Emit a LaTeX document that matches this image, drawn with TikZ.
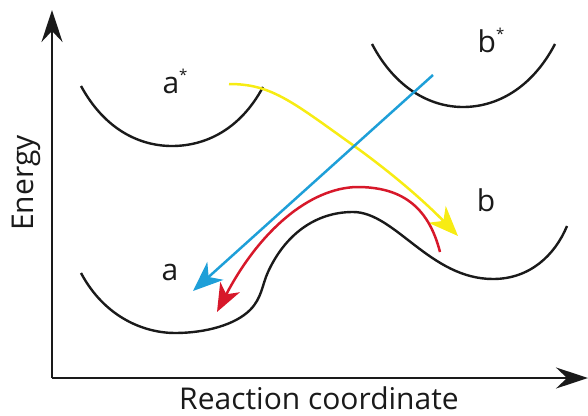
\documentclass[tikz,border=0pt]{standalone}
\usepackage{fontspec}
\setmainfont{Open Sans}
\usetikzlibrary{arrows.meta}
\definecolor{yel}{HTML}{F7EC13}
\definecolor{blu}{HTML}{1E9FD8}
\definecolor{rd}{HTML}{D7182A}
\definecolor{ink}{HTML}{1A1A1A}
\newcommand{\mystar}{\raisebox{13pt}{\fontsize{15}{15}\selectfont *}}
\begin{document}
\begin{tikzpicture}[x=1pt,y=-1pt,
  axis/.style={line width=2.6pt,draw=ink,-{Stealth[length=32pt,width=21pt,inset=11pt]}},
  well/.style={line width=2.4pt,draw=ink},
  flow/.style={line width=2.5pt,-{Stealth[length=30pt,width=24pt,inset=9pt]}},
  lbl/.style={font=\fontsize{30}{30}\selectfont,inner sep=0pt,anchor=base,text=ink}]
\useasboundingbox (0,0) rectangle (588,415);
% axes
\coordinate (O) at (52,378);
\coordinate (Ytip) at (52,10);
\coordinate (Xtip) at (588,378);
\draw[axis] (O) -- (Ytip);
\draw[axis] (O) -- (Xtip);
\node[lbl,rotate=90] (ylab) at (33,183) {Energy};
\node[lbl] (xlab) at (319,409) {Reaction coordinate};
% wells
\draw[well] (81,86) .. controls (105,130) and (140,146) .. (172,146) .. controls (205,146) and (240,130) .. (263,87);
\draw[well] (372,44) .. controls (395,88) and (430,107) .. (463,107) .. controls (497,107) and (532,88) .. (555,44);
\draw[well] (81,273) .. controls (105,318) and (145,333) .. (175,333)
  .. controls (205,333) and (235,325) .. (250,310)
  .. controls (262,298) and (262,285) .. (268,272)
  .. controls (285,235) and (315,212) .. (353,212)
  .. controls (395,212) and (430,279) .. (493,279)
  .. controls (530,279) and (555,255) .. (567,226);
% labels
\node[lbl] (astar) at (175,93) {a\mystar};
\node[lbl] (bstar) at (491,52) {b\mystar};
\node[lbl] (b) at (486,211) {b};
\node[lbl] (a) at (170,280) {a};
% arrows
\coordinate (y0) at (229,84);
\coordinate (y1) at (458,236);
\draw[flow,draw=yel] (y0) .. controls (270,84) and (290,100) .. (350,143) .. controls (395,175) and (428,205) .. (y1);
\coordinate (b0) at (433,75);
\coordinate (b1) at (193,291);
\draw[flow,draw=blu] (b0) -- (b1);
\coordinate (r0) at (440,252);
\coordinate (r1) at (217,312);
\draw[flow,draw=rd,-{Stealth[length=28pt,width=22pt,inset=8pt]}] (r0) .. controls (428,205) and (400,187) .. (357,187) .. controls (310,188) and (260,230) .. (r1);
\end{tikzpicture}
\end{document}
